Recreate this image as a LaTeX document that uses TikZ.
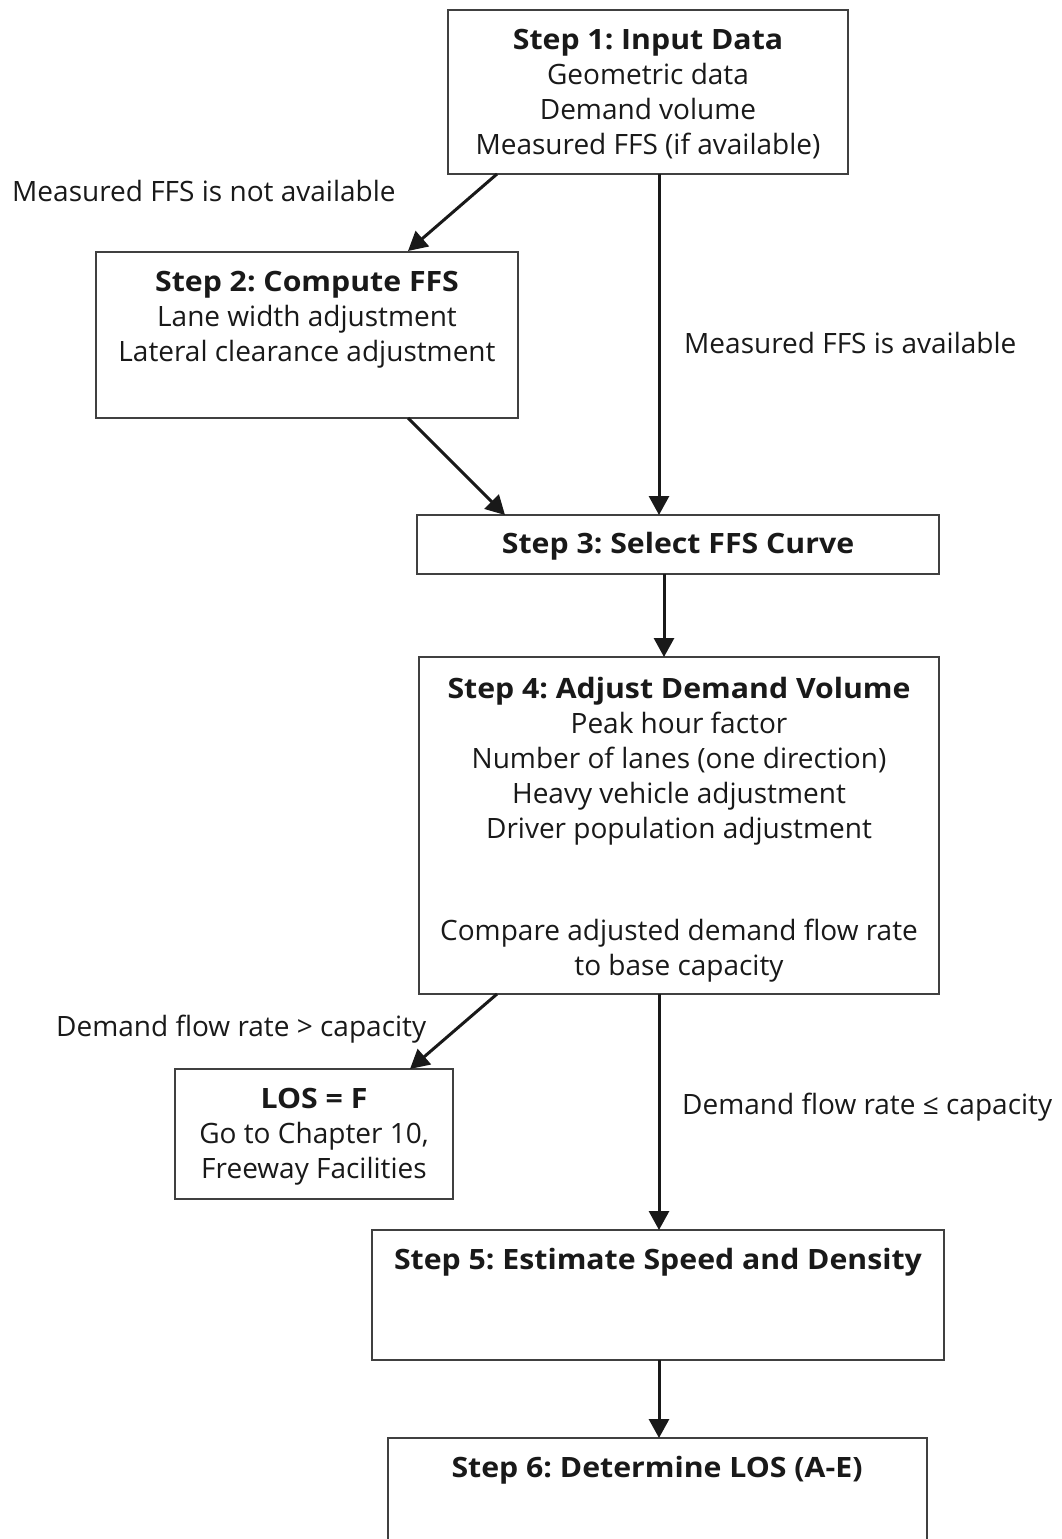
\documentclass[tikz,border=0pt]{standalone}
\usepackage{fontspec}
\setmainfont{Open Sans}[BoldFeatures={FakeStretch=1.08}]
\usetikzlibrary{arrows.meta}
\frenchspacing
\begin{document}
\begin{tikzpicture}[x=1pt,y=-1pt,
  box/.style={draw=black!75,line width=1.6pt,fill=white,inner sep=0pt},
  txt/.style={inner sep=0pt,align=center,font=\fontsize{28}{35}\selectfont,text=black!90},
  lab/.style={inner sep=0pt,font=\fontsize{28}{35}\selectfont,text=black!90},
  arr/.style={-{Triangle[length=19pt,width=20pt]},line width=3pt,black!90}]
\useasboundingbox (0,0) rectangle (1062,1539);
\clip (0,0) rectangle (1062,1539);
% boxes
\node[box,minimum width=400pt,minimum height=164pt] (b1) at (648,92) {};
\node[box,minimum width=422pt,minimum height=166pt] (b2) at (307,335) {};
\node[box,minimum width=522pt,minimum height=59pt] (b3) at (678,544.5) {};
\node[box,minimum width=520pt,minimum height=337pt] (b4) at (679,825.5) {};
\node[box,minimum width=278pt,minimum height=130pt] (b7) at (314,1134) {};
\node[box,minimum width=572pt,minimum height=130pt] (b5) at (658,1295) {};
\node[box,minimum width=539pt,minimum height=160pt] (b6) at (657.5,1518) {};
% texts
\node[txt,anchor=north] (t1) at (648,29) {\textbf{Step 1: Input Data}\\Geometric data\\Demand volume\\Measured FFS (if available)};
\node[txt,anchor=north] (t2) at (307,271) {\textbf{Step 2: Compute FFS}\\Lane width adjustment\\Lateral clearance adjustment};
\node[txt] (t3) at (678,546) {\textbf{Step 3: Select FFS Curve}};
\node[txt,anchor=north] (t4) at (679,677) {\textbf{Step 4: Adjust Demand Volume}\\Peak hour factor\\Number of lanes (one direction)\\Heavy vehicle adjustment\\Driver population adjustment};
\node[txt,anchor=north] (t4b) at (679,919) {Compare adjusted demand flow rate\\to base capacity};
\node[txt,anchor=north] (t7) at (314,1088) {\textbf{LOS = F}\\Go to Chapter 10,\\Freeway Facilities};
\node[txt] (t5) at (658,1262) {\textbf{Step 5: Estimate Speed and Density}};
\node[txt] (t6) at (657,1470) {\textbf{Step 6: Determine LOS (A-E)}};
% connectors
\coordinate (b1l) at (497,174);
\coordinate (b2t) at (408,251);
\coordinate (b1r) at (659,174);
\coordinate (b3r) at (659,515);
\coordinate (b2b) at (408,418);
\coordinate (b3l) at (505,515);
\coordinate (b3b) at (664,574);
\coordinate (b4t) at (664,657);
\coordinate (b4l) at (497,994);
\coordinate (b7t) at (410,1069);
\coordinate (b4r) at (659,994);
\coordinate (b5t) at (659,1230);
\coordinate (b5b) at (659,1360);
\coordinate (b6t) at (659,1438);
\draw[arr] (b1l) -- (b2t);
\draw[arr] (b1r) -- (b3r);
\draw[arr] (b2b) -- (b3l);
\draw[arr] (b3b) -- (b4t);
\draw[arr] (b4l) -- (b7t);
\draw[arr] (b4r) -- (b5t);
\draw[arr] (b5b) -- (b6t);
% labels
\node[lab,anchor=west] (l1) at (12,191) {Measured FFS is not available};
\node[lab,anchor=west] (l2) at (684,343) {Measured FFS is available};
\node[lab,anchor=west] (l3) at (56,1029) {Demand flow rate > capacity};
\node[lab,anchor=west] (l4) at (682,1107) {Demand flow rate ≤ capacity};
\end{tikzpicture}
\end{document}
